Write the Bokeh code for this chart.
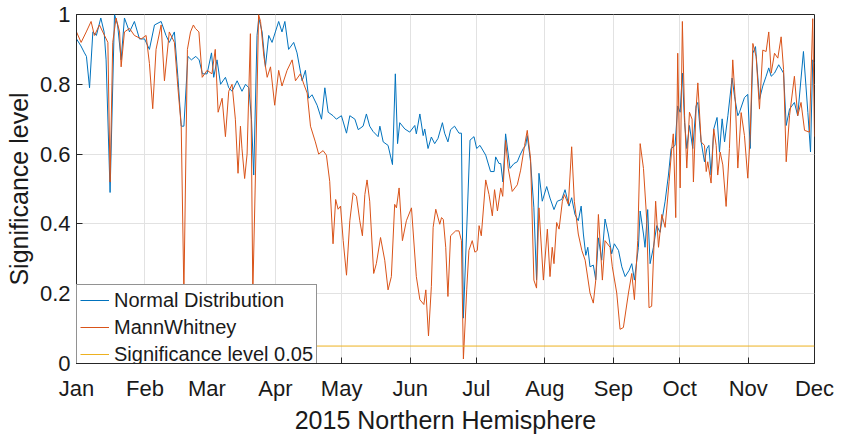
from bokeh.plotting import figure
from bokeh.models import Range1d, FixedTicker, Legend
from bokeh.embed import file_html
from bokeh.resources import INLINE

# ---- data (day of year 2015, 0 = Jan 1) ----
month_days = [0, 31, 59, 90, 120, 151, 181, 212, 243, 273, 304, 334]
month_labels = ["Jan", "Feb", "Mar", "Apr", "May", "Jun", "Jul", "Aug", "Sep", "Oct", "Nov", "Dec"]
y_ticks = [0, 0.2, 0.4, 0.6, 0.8, 1]

normal_days = [0, 2, 3.6, 4.5, 5.9, 7.4, 9, 11, 12.5, 13.4, 15.2, 17.2, 18.6, 20.2, 21.7, 24, 26.2, 28.5,
               30.8, 33, 35.3, 38.3, 40.5, 42, 44.3, 45.9, 47.4, 48.6, 50.4, 52, 54, 55.5, 57, 59.1, 61.1,
               62.1, 63.6, 65.2, 67.4, 68.9, 70.4, 72.7, 74.9, 76.5, 78, 79.2, 80.2, 81.7, 82.5, 84, 85.5,
               87, 88.5, 90, 91.5, 93, 94.3, 96, 98.3, 99.8, 102.1, 103.6, 105.1, 106.6, 108.9, 110.9,
               112.4, 113.9, 116.1, 117.6, 119.9, 122.2, 123.7, 126, 127.5, 129.7, 131.2, 132.7, 134.2,
               136.5, 137.3, 138.8, 141, 143, 144.3, 145.3, 146.3, 148.6, 150.8, 153.1, 153.8, 155.4,
               156.9, 157.6, 159.1, 160.6, 162.1, 163.6, 165.6, 166.6, 168.1, 169.3, 171.1, 173.1, 174.2,
               175.1, 178.1, 179.9, 181.1, 182.6, 185.2, 187.4, 189, 189.7, 191.2, 192, 193, 194.2, 196.2,
               198, 199.5, 200.7, 202.2, 203.3, 204, 205.5, 207, 208.2, 209.3, 210.8, 212.8, 214.3, 216.1,
               217.6, 219.6, 221.1, 222.9, 224.1, 225.6, 227.1, 228.4, 229.4, 230.5, 231.4, 232.4, 233.9,
               235, 236.2, 237.7, 239.2, 240.7, 242.2, 243.4, 245.3, 246.8, 248.3, 250.1, 251.3, 252.5,
               254.3, 255.1, 256.6, 257.3, 258.5, 259.6, 261.1, 262.6, 264.1, 266.4, 267.9, 269.1, 270.9,
               272.1, 273.2, 274.2, 275.2, 276.2, 277.4, 278.9, 280.4, 281.2, 282.7, 284.2, 285.3, 286.2,
               287.2, 288.4, 289.9, 291, 292.2, 293.3, 294.8, 296.7, 297.8, 299.3, 300, 302.3, 303.8,
               304.9, 306.1, 307.3, 309.1, 310.6, 312.1, 313.3, 314.4, 315.9, 317.8, 320, 321.2, 322.7,
               324.9, 326.4, 329, 331, 332.2, 333.2, 334]
normal_vals = [0.93, 0.91, 0.89, 0.88, 0.79, 0.95, 0.94, 0.99, 0.95, 0.87, 0.49, 1.0, 0.97, 0.87, 0.99, 0.95,
               0.98, 0.93, 0.93, 0.9, 0.97, 0.98, 0.94, 0.92, 0.95, 0.82, 0.68, 0.68, 0.88, 0.87, 0.88, 0.87,
               0.83, 0.83, 0.89, 0.82, 0.87, 0.8, 0.82, 0.79, 0.78, 0.81, 0.78, 0.8, 0.79, 0.7, 0.54, 0.94,
               0.99, 0.95, 0.85, 0.94, 0.92, 0.95, 0.98, 0.95, 0.98, 0.9, 0.92, 0.89, 0.81, 0.84, 0.76, 0.77,
               0.74, 0.70, 0.79, 0.72, 0.71, 0.70, 0.71, 0.66, 0.71, 0.70, 0.67, 0.68, 0.715, 0.68, 0.665,
               0.65, 0.68, 0.635, 0.625, 0.57, 0.83, 0.63, 0.69, 0.672, 0.663, 0.682, 0.658, 0.715, 0.653,
               0.672, 0.616, 0.649, 0.63, 0.645, 0.69, 0.66, 0.635, 0.67, 0.68, 0.66, 0.66, 0.13, 0.64, 0.65,
               0.616, 0.625, 0.597, 0.55, 0.55, 0.592, 0.573, 0.573, 0.52, 0.658, 0.559, 0.573, 0.578, 0.597,
               0.616, 0.625, 0.653, 0.578, 0.446, 0.239, 0.545, 0.465, 0.507, 0.474, 0.441, 0.465, 0.47,
               0.498, 0.451, 0.475, 0.427, 0.409, 0.451, 0.371, 0.31, 0.333, 0.277, 0.282, 0.24, 0.36, 0.296,
               0.414, 0.371, 0.314, 0.343, 0.324, 0.277, 0.249, 0.267, 0.286, 0.239, 0.333, 0.437, 0.371,
               0.333, 0.441, 0.286, 0.333, 0.395, 0.376, 0.465, 0.54, 0.616, 0.625, 0.738, 0.72, 0.832,
               0.691, 0.616, 0.682, 0.616, 0.738, 0.748, 0.635, 0.578, 0.616, 0.625, 0.54, 0.672, 0.705,
               0.606, 0.701, 0.635, 0.71, 0.818, 0.766, 0.71, 0.719, 0.762, 0.771, 0.616, 0.889, 0.908,
               0.757, 0.795, 0.823, 0.847, 0.823, 0.832, 0.856, 0.832, 0.682, 0.729, 0.748, 0.71, 0.894,
               0.719, 0.606, 0.87, 0.86]

mw_days = [0, 2.1, 4.4, 6.6, 8.1, 10.4, 11.9, 14.2, 15.2, 16.4, 17.9, 19.5, 20.2, 21.7, 24, 26.2, 29.3, 31.5,
           33, 34.5, 36, 38.3, 39.8, 42, 44.3, 45.9, 47.4, 48.6, 50.2, 51.6, 52.9, 53.8, 55.4, 56.9, 59.1,
           61.3, 62.8, 64.1, 65.9, 67.4, 68.9, 70.4, 71.9, 73.1, 74.2, 74.9, 76.1, 77.2, 78.7, 79.8, 81.2,
           82.4, 83.3, 84.8, 86.3, 87.8, 89.7, 91.5, 93, 95.3, 97.6, 99.1, 101.3, 102.9, 104.4, 105.9,
           108.1, 109.6, 111.6, 113.1, 114.6, 116.1, 117.3, 118.4, 119.5, 120.7, 122.2, 123.7, 125.2,
           126.7, 128.2, 129.4, 130.5, 131.5, 132.7, 134.5, 135.7, 137.6, 139.5, 141, 142.5, 144, 144.8,
           146, 147.5, 149.3, 151.6, 153.8, 155.4, 157.2, 158.1, 159.3, 160.6, 161.4, 162.6, 164.4, 165.2,
           166, 167.1, 168.1, 169.3, 171.6, 173.1, 174.2, 175.1, 176.6, 177.6, 179.1, 180.3, 181.4, 182.2,
           183.2, 185.2, 186.7, 188.2, 189.2, 190.5, 192, 192.9, 194.2, 195.4, 197.2, 199.5, 201, 202.8,
           204, 205.5, 207, 208.2, 209.3, 211.3, 213.1, 214.3, 215.3, 216.1, 217.3, 218.4, 219.9, 220.8,
           222.6, 224.1, 225.3, 227.1, 228.7, 230.2, 232.4, 233.9, 235, 236.2, 238, 239.2, 241.5, 242.5,
           244.5, 246, 247.5, 249.8, 251.3, 252.5, 254, 255.1, 256.6, 258.1, 259.1, 260.3, 262.1, 263.4,
           264.9, 266.4, 268.2, 269.4, 270.1, 271.2, 272.1, 273.2, 274.2, 275.2, 276.2, 277.4, 278.6,
           279.2, 280.4, 281.2, 282.7, 284.2, 285, 285.7, 287.2, 288.4, 289.5, 290.2, 291.3, 292.5, 294,
           295.5, 297, 298.2, 299.3, 300.8, 302.3, 303.8, 304.9, 306.1, 307.6, 309.1, 310.6, 312.1, 313.3,
           314.4, 315.9, 317.4, 318.9, 320, 321.2, 322.7, 324.9, 326.4, 327.9, 329.5, 331.7, 333.2, 334]
mw_vals = [0.95, 0.92, 0.95, 0.98, 0.94, 0.97, 0.95, 0.92, 0.52, 0.92, 0.99, 0.95, 0.85, 0.95, 0.96, 0.94,
           0.93, 0.94, 0.86, 0.73, 0.9, 0.97, 0.81, 0.95, 0.92, 0.79, 0.68, 0.2, 0.9, 0.95, 0.97, 0.96, 0.95,
           0.82, 0.84, 0.83, 0.9, 0.72, 0.76, 0.65, 0.78, 0.8, 0.7, 0.545, 0.68, 0.615, 0.53, 0.6, 0.945,
           0.2, 0.6, 1.0, 0.98, 0.88, 0.82, 0.85, 0.74, 0.84, 0.795, 0.84, 0.87, 0.81, 0.83, 0.8, 0.775,
           0.68, 0.635, 0.6, 0.61, 0.597, 0.522, 0.343, 0.47, 0.442, 0.451, 0.352, 0.253, 0.409, 0.489,
           0.479, 0.409, 0.366, 0.484, 0.526, 0.465, 0.258, 0.286, 0.361, 0.296, 0.211, 0.249, 0.456, 0.446,
           0.503, 0.352, 0.409, 0.446, 0.249, 0.183, 0.169, 0.211, 0.079, 0.22, 0.39, 0.442, 0.399, 0.418,
           0.413, 0.333, 0.192, 0.366, 0.38, 0.38, 0.352, 0.013, 0.211, 0.324, 0.352, 0.319, 0.324, 0.395,
           0.366, 0.526, 0.484, 0.423, 0.498, 0.437, 0.503, 0.479, 0.639, 0.559, 0.493, 0.512, 0.554, 0.625,
           0.668, 0.587, 0.239, 0.216, 0.446, 0.239, 0.385, 0.249, 0.333, 0.286, 0.404, 0.385, 0.465, 0.484,
           0.456, 0.621, 0.465, 0.371, 0.324, 0.296, 0.202, 0.173, 0.239, 0.427, 0.239, 0.352, 0.333, 0.277,
           0.202, 0.098, 0.103, 0.202, 0.258, 0.183, 0.352, 0.63, 0.559, 0.409, 0.16, 0.164, 0.465, 0.333,
           0.427, 0.39, 0.522, 0.616, 0.658, 0.418, 0.889, 0.503, 0.98, 0.71, 0.56, 0.72, 0.70, 0.52, 0.73,
           0.804, 0.635, 0.625, 0.55, 0.578, 0.517, 0.672, 0.625, 0.54, 0.606, 0.569, 0.45, 0.616, 0.87,
           0.748, 0.56, 0.719, 0.653, 0.531, 0.653, 0.917, 0.879, 0.729, 0.898, 0.894, 0.95, 0.832, 0.889,
           0.875, 0.936, 0.842, 0.578, 0.71, 0.823, 0.71, 0.748, 0.668, 0.663, 0.988, 0.65]

sig_days = [0, 334]
sig_vals = [0.05, 0.05]

FONT = "Liberation Sans"
DARK = "#262626"

p = figure(width=845, height=436, output_backend="svg", toolbar_location=None,
           x_range=Range1d(0, 334), y_range=Range1d(0, 1),
           min_border_left=76, min_border_right=31, min_border_top=14, min_border_bottom=68)
p.background_fill_color = "white"
p.border_fill_color = "white"
p.outline_line_color = DARK
p.outline_line_width = 1

r1 = p.line(normal_days, normal_vals, line_color="#0072BD", line_width=1)
r2 = p.line(mw_days, mw_vals, line_color="#D95319", line_width=1)
r3 = p.line(sig_days, sig_vals, line_color="#EDB120", line_width=1)

# axes
xa = p.xaxis[0]
xa.ticker = FixedTicker(ticks=month_days)
xa.major_label_overrides = {d: lab for d, lab in zip(month_days, month_labels)}
ya = p.yaxis[0]
ya.ticker = FixedTicker(ticks=y_ticks)
ya.major_label_overrides = {0: "0", 1: "1", 0.2: "0.2", 0.4: "0.4", 0.6: "0.6", 0.8: "0.8"}

xa.axis_label = "2015 Northern Hemisphere"
ya.axis_label = "Significance level"
for ax in (xa, ya):
    ax.axis_line_color = DARK
    ax.major_tick_line_color = DARK
    ax.major_tick_in = 6
    ax.major_tick_out = 0
    ax.minor_tick_line_color = None
    ax.major_label_text_font = FONT
    ax.major_label_text_font_size = "22px"
    ax.major_label_text_color = "#1a1a1a"
    ax.axis_label_text_font = FONT
    ax.axis_label_text_font_size = "25px"
    ax.axis_label_text_font_style = "normal"
    ax.axis_label_text_color = "#1a1a1a"
xa.major_label_standoff = 12
xa.axis_label_standoff = 2
ya.major_label_standoff = 6
ya.axis_label_standoff = 4

for g in (p.xgrid[0], p.ygrid[0]):
    g.grid_line_color = "#e2e2e2"
    g.grid_line_width = 1
p.xgrid[0].ticker = FixedTicker(ticks=month_days)
p.ygrid[0].ticker = FixedTicker(ticks=y_ticks)

legend = Legend(items=[("Normal Distribution", [r1]), ("MannWhitney", [r2]),
                       ("Significance level 0.05", [r3])],
                location=(0, -7), margin=0, padding=3, spacing=3,
                label_height=24, glyph_height=24, glyph_width=29, label_standoff=5,
                label_text_font=FONT, label_text_font_size="20px", label_text_color="#1a1a1a",
                label_text_line_height=1.0,
                border_line_color=DARK, border_line_width=1,
                background_fill_color="white", background_fill_alpha=1)
p.add_layout(legend, "center")

open("out.html", "w").write(file_html(p, INLINE))
